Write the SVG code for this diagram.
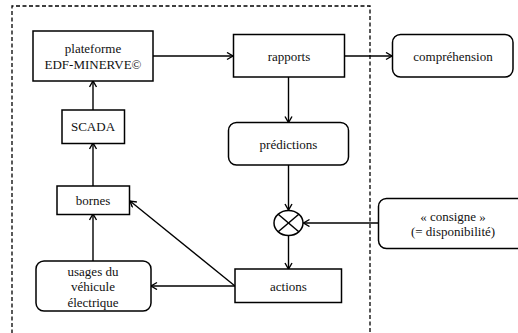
<svg xmlns="http://www.w3.org/2000/svg" width="518" height="333" viewBox="0 0 518 333">
  <defs>
    <marker id="arrow" markerWidth="10" markerHeight="10" refX="7" refY="4" orient="auto" markerUnits="userSpaceOnUse">
      <path d="M1,0.5 L7,4 L1,7.5" fill="none" stroke="#000" stroke-width="1.4"/>
    </marker>
  </defs>
  <style>
    .box { fill: #fff; stroke: #000; stroke-width: 1.5; }
    .lbl { font-family: 'Liberation Serif', 'DejaVu Serif', serif; font-size: 13px; fill: #111; text-anchor: middle; }
    .edge { fill: none; stroke: #000; stroke-width: 1.4; marker-end: url(#arrow); }
    .frame { fill: none; stroke: #000; stroke-width: 1.3; stroke-dasharray: 4 2.5; }
  </style>
  <rect width="518" height="333" fill="#fff"/>

  <!-- system boundary (open at the bottom) -->
  <path class="frame" d="M12,340 L12,6 L370,6 L370,340"/>

  <g id="connectors">
    <line class="edge" x1="153" y1="56" x2="233" y2="56"/>
    <line class="edge" x1="344" y1="56" x2="392" y2="56"/>
    <line class="edge" x1="288.5" y1="77" x2="288.5" y2="122.5"/>
    <line class="edge" x1="288.5" y1="165" x2="288.5" y2="210"/>
    <line class="edge" x1="288.5" y1="235.5" x2="288.5" y2="269"/>
    <line class="edge" x1="378" y1="223" x2="303.5" y2="223"/>
    <line class="edge" x1="235" y1="286" x2="151" y2="286"/>
    <line class="edge" x1="235" y1="286" x2="130" y2="201"/>
    <line class="edge" x1="93" y1="261" x2="93" y2="214"/>
    <line class="edge" x1="93" y1="186" x2="93" y2="143"/>
    <line class="edge" x1="93" y1="110" x2="93" y2="81"/>
  </g>

  <g id="plateforme">
    <rect class="box" x="33" y="31" width="120" height="50"/>
    <text class="lbl" x="93" y="53" font-family="Liberation Serif, serif">plateforme</text>
    <text class="lbl" x="93" y="69" font-family="Liberation Serif, serif">EDF-MINERVE©</text>
  </g>

  <g id="rapports">
    <rect class="box" x="233.5" y="34.5" width="111" height="42.5"/>
    <text class="lbl" x="289" y="61">rapports</text>
  </g>

  <g id="comprehension">
    <rect class="box" x="392.5" y="34.5" width="120.5" height="42.5" rx="8"/>
    <text class="lbl" x="453" y="61">compréhension</text>
  </g>

  <g id="predictions">
    <rect class="box" x="228.5" y="122.5" width="120" height="42.5" rx="8"/>
    <text class="lbl" x="288.5" y="149">prédictions</text>
  </g>

  <g id="scada">
    <rect class="box" x="62" y="110" width="62.5" height="33.5"/>
    <text class="lbl" x="93" y="131">SCADA</text>
  </g>

  <g id="bornes">
    <rect class="box" x="57" y="186" width="72.5" height="28.5"/>
    <text class="lbl" x="93" y="205">bornes</text>
  </g>

  <g id="usages">
    <rect class="box" x="36" y="261" width="115" height="50" rx="8"/>
    <text class="lbl" x="93" y="275.5">usages du</text>
    <text class="lbl" x="93" y="291">véhicule</text>
    <text class="lbl" x="93" y="307">électrique</text>
  </g>

  <g id="actions">
    <rect class="box" x="235" y="269" width="106.5" height="33.5"/>
    <text class="lbl" x="288.5" y="291">actions</text>
  </g>

  <g id="comparateur">
    <ellipse class="box" cx="288.5" cy="223" rx="14.5" ry="12.5"/>
    <line x1="278.2" y1="214.2" x2="298.8" y2="231.8" stroke="#000" stroke-width="1.5"/>
    <line x1="298.8" y1="214.2" x2="278.2" y2="231.8" stroke="#000" stroke-width="1.5"/>
  </g>

  <g id="consigne">
    <rect class="box" x="378.5" y="198.5" width="150" height="50" rx="8"/>
    <text class="lbl" x="453" y="221">« consigne »</text>
    <text class="lbl" x="453" y="236">(= disponibilité)</text>
  </g>
</svg>
